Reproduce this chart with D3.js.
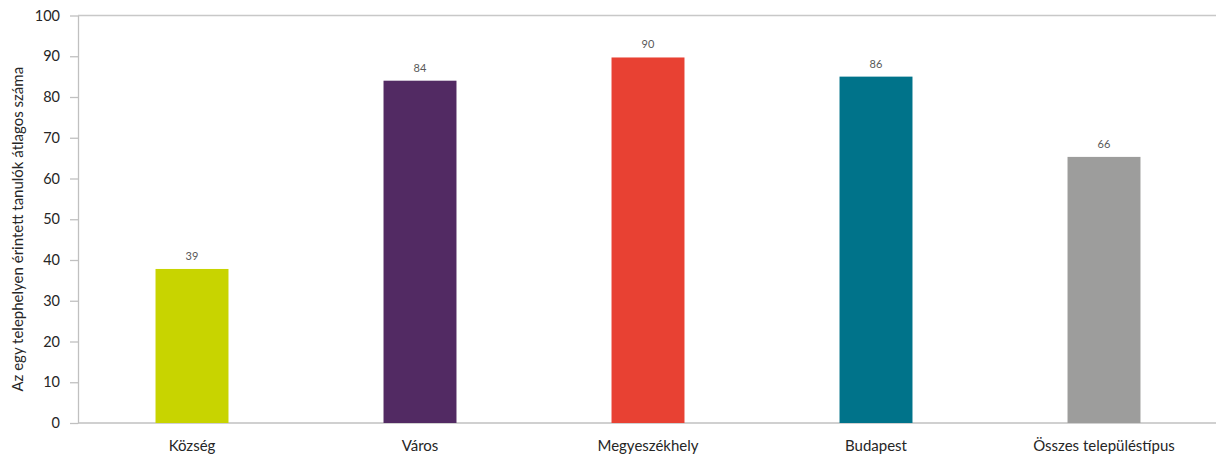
<!DOCTYPE html>
<html>
<head>
<meta charset="utf-8">
<script src="https://cdn.jsdelivr.net/npm/d3@7"></script>
<style>
  html, body { margin: 0; padding: 0; background: #fff; }
  svg { display: block; }
  text { font-family: Lato, "Open Sans", sans-serif; }
</style>
</head>
<body>
<svg id="chart" width="1216" height="455"></svg>
<script>
const categories = ["Község", "Város", "Megyeszékhely", "Budapest", "Összes településtípus"];
const values = [37.8, 84.0, 89.7, 85.0, 65.3];
const valueLabels = ["39", "84", "90", "86", "66"];
const colors = ["#c8d400", "#522a63", "#e84133", "#00738a", "#9d9d9c"];
const yTicks = [0, 10, 20, 30, 40, 50, 60, 70, 80, 90, 100];
const yTitle = "Az egy telephelyen érintett tanulók átlagos száma";

(function () {
const svg = d3.select("#chart");
const mLeft = 78, mRight = 1218, mTop = 15.5, mBottom = 423;

const x = d3.scaleBand().domain(categories).range([mLeft, mRight]).paddingInner(0.68).paddingOuter(0.34);
const y = d3.scaleLinear().domain([0, 100]).range([mBottom, mTop]);

// top border line
svg.append("line")
  .attr("x1", mLeft).attr("x2", 1216)
  .attr("y1", y(100)).attr("y2", y(100))
  .attr("stroke", "#c8c8c8").attr("stroke-width", 1.3);

// y axis
const yAxis = svg.append("g")
  .attr("transform", `translate(${mLeft},0)`)
  .call(d3.axisLeft(y).tickValues(yTicks).tickSize(8).tickPadding(10).tickSizeOuter(0));
yAxis.select(".domain").attr("stroke", "#c0c0c0").attr("stroke-width", 1.3);
yAxis.selectAll(".tick line").attr("stroke", "#c0c0c0").attr("stroke-width", 1.3);
yAxis.selectAll(".tick text")
  .attr("fill", "#262626")
  .style("font-size", "14.5px")
  .style("font-family", "Lato, 'Open Sans', sans-serif");

// x axis
const xAxis = svg.append("g")
  .attr("transform", `translate(0,${mBottom})`)
  .call(d3.axisBottom(x).tickSize(0).tickPadding(17).tickSizeOuter(0));
xAxis.select(".domain").remove();
xAxis.selectAll(".tick text")
  .attr("fill", "#262626")
  .style("font-size", "15px")
  .style("font-family", "Lato, 'Open Sans', sans-serif");
svg.append("line")
  .attr("x1", mLeft).attr("x2", 1216)
  .attr("y1", mBottom).attr("y2", mBottom)
  .attr("stroke", "#c0c0c0").attr("stroke-width", 1.3);

// bars
svg.append("g").selectAll("rect")
  .data(categories)
  .join("rect")
  .attr("x", d => x(d))
  .attr("width", x.bandwidth())
  .attr("y", (d, i) => y(values[i]))
  .attr("height", (d, i) => y(0) - y(values[i]))
  .attr("fill", (d, i) => colors[i]);

// value labels
svg.append("g").selectAll("text")
  .data(categories)
  .join("text")
  .attr("x", d => x(d) + x.bandwidth() / 2)
  .attr("y", (d, i) => y(values[i]) - 9)
  .attr("text-anchor", "middle")
  .attr("fill", "#595959")
  .style("font-size", "11px")
  .text((d, i) => valueLabels[i]);

// y title
svg.append("text")
  .attr("transform", `translate(23,${(mTop + mBottom) / 2 + 10}) rotate(-90)`)
  .attr("text-anchor", "middle")
  .attr("fill", "#262626")
  .style("font-size", "15px")
  .text(yTitle);
})();
</script>
</body>
</html>
